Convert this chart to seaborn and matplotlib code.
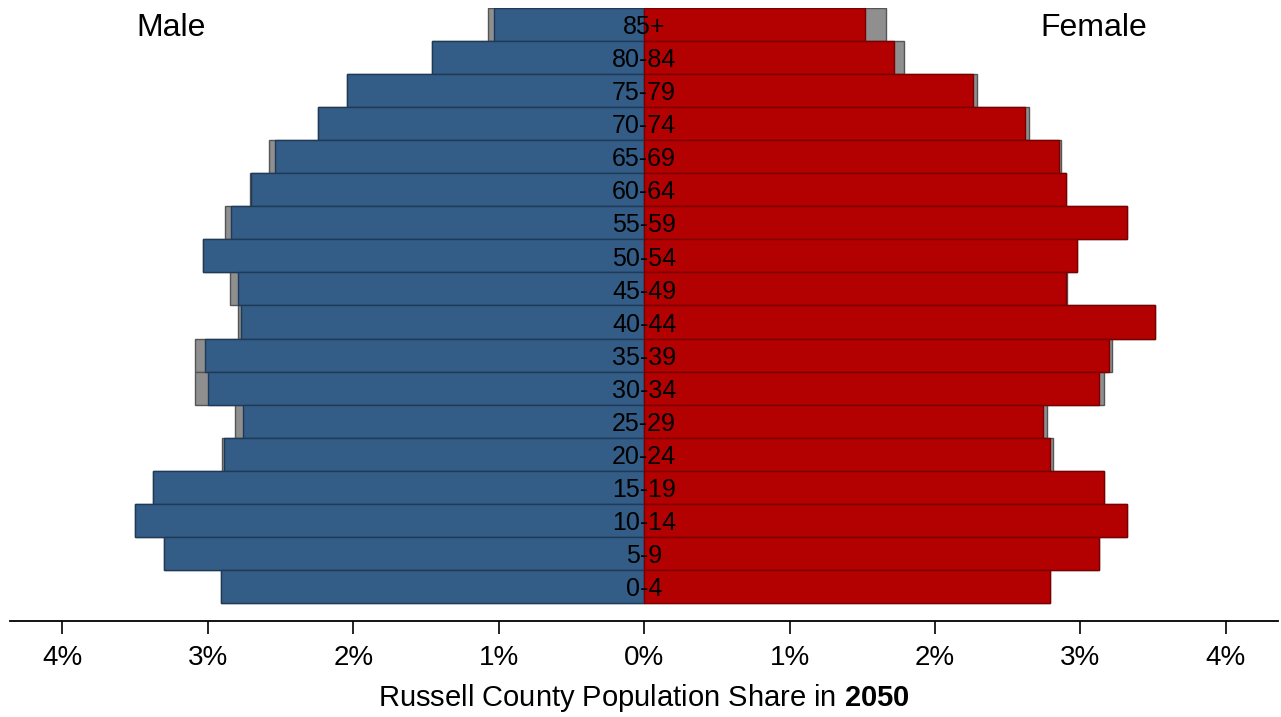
import pandas as pd
import matplotlib.pyplot as plt
import seaborn as sns
import numpy as np

sns.set_theme(style="white")
plt.rcParams['font.family'] = ['Liberation Sans', 'DejaVu Sans']
plt.rcParams['text.color'] = 'black'
plt.rcParams['xtick.color'] = 'black'
plt.rcParams['axes.labelcolor'] = 'black'
plt.rcParams['mathtext.fontset'] = 'custom'
plt.rcParams['mathtext.rm'] = 'Liberation Sans'
plt.rcParams['mathtext.bf'] = 'Liberation Sans:bold'

# age groups, top to bottom
ages = ["85+", "80-84", "75-79", "70-74", "65-69", "60-64", "55-59", "50-54", "45-49",
        "40-44", "35-39", "30-34", "25-29", "20-24", "15-19", "10-14", "5-9", "0-4"]

# population share (%) in 2050
male = [1.03, 1.46, 2.04, 2.24, 2.54, 2.70, 2.84, 3.03, 2.79,
        2.77, 3.02, 3.00, 2.76, 2.89, 3.38, 3.50, 3.30, 2.91]
female = [1.52, 1.72, 2.26, 2.62, 2.85, 2.90, 3.32, 2.98, 2.90,
          3.51, 3.20, 3.13, 2.74, 2.79, 3.16, 3.32, 3.13, 2.79]

# comparison shares drawn in gray behind
male_cmp = [1.07, 1.46, 2.04, 2.24, 2.58, 2.71, 2.88, 3.03, 2.85,
            2.79, 3.09, 3.09, 2.81, 2.90, 3.38, 3.50, 3.30, 2.91]
female_cmp = [1.66, 1.79, 2.29, 2.65, 2.87, 2.90, 3.32, 2.98, 2.91,
              3.51, 3.22, 3.16, 2.77, 2.81, 3.16, 3.32, 3.13, 2.79]

df = pd.DataFrame({
    "age": ages,
    "male": -np.array(male),
    "female": np.array(female),
    "male_cmp": -np.array(male_cmp),
    "female_cmp": np.array(female_cmp),
})

BLUE = "#335c86"
RED = "#b30000"
GRAY = "#8f8f8f"

fig = plt.figure(figsize=(12.81, 7.17), dpi=100)
ax = fig.add_axes([0.0078, 0.134, 0.99, 0.855])

common = dict(y="age", order=ages, orient="h", width=1.0, saturation=1, ax=ax, linewidth=1.0)
sns.barplot(data=df, x="male_cmp", color=GRAY, edgecolor="#555555", **common)
sns.barplot(data=df, x="female_cmp", color=GRAY, edgecolor="#555555", **common)
sns.barplot(data=df, x="male", color=BLUE, edgecolor="#1f3a57", **common)
sns.barplot(data=df, x="female", color=RED, edgecolor="#7a0000", **common)

# age labels on the center line
for i, a in enumerate(ages):
    ax.text(0, i + 0.08, a, ha="center", va="center", fontsize=18, color="black")

ax.text(-3.25, 0.12, "Male", ha="center", va="center", fontsize=23, color="black")
ax.text(3.09, 0.12, "Female", ha="center", va="center", fontsize=23, color="black")

ax.set_xlim(-4.36, 4.36)
ax.set_ylim(len(ages) - 0.5 + 0.54, -0.5)

ticks = np.arange(-4, 5)
ax.set_xticks(ticks)
ax.set_xticklabels([f"{abs(t)}%" for t in ticks], fontsize=20)
ax.tick_params(axis="x", direction="out", length=9, width=1.2, color="black", pad=8, bottom=True)
ax.set_yticks([])
ax.set_ylabel("")
ax.set_xlabel("Russell County Population Share in $\\mathbf{2050}$", fontsize=21, labelpad=8)

for s in ["top", "left", "right"]:
    ax.spines[s].set_visible(False)
ax.spines["bottom"].set_color("black")
ax.spines["bottom"].set_linewidth(1.3)

fig.savefig("out.png", dpi=100)
